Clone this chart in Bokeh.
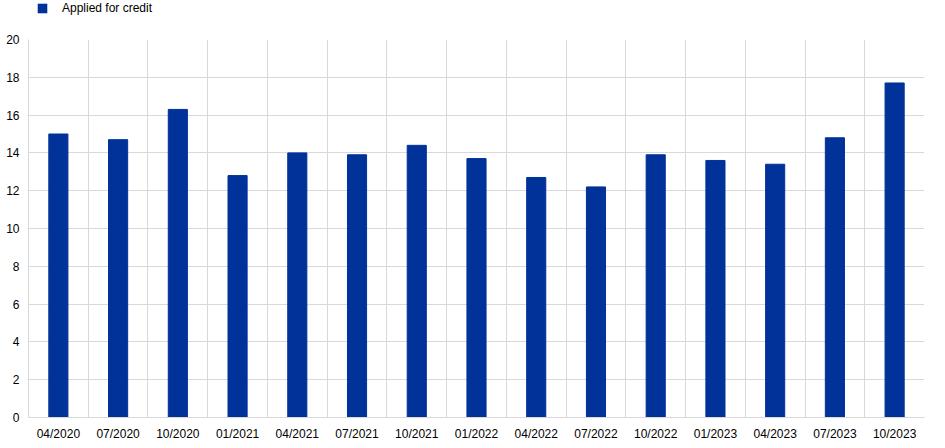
from bokeh.plotting import figure
from bokeh.layouts import column
from bokeh.models import ColumnDataSource, Range1d, FixedTicker, Legend, LegendItem
from bokeh.embed import file_html
from bokeh.resources import INLINE

categories = ["04/2020", "07/2020", "10/2020", "01/2021", "04/2021", "07/2021", "10/2021",
              "01/2022", "04/2022", "07/2022", "10/2022", "01/2023", "04/2023", "07/2023", "10/2023"]
applied_for_credit = [15.0, 14.7, 16.3, 12.8, 14.0, 13.9, 14.4, 13.7, 12.7, 12.2, 13.9, 13.6, 13.4, 14.8, 17.7]
y_ticks = [0, 2, 4, 6, 8, 10, 12, 14, 16, 18, 20]
series_name = "Applied for credit"

idx = list(range(len(categories)))
src = ColumnDataSource(data=dict(x=idx, top=applied_for_credit, cat=categories))

FONT = "Liberation Sans"
GRID = "#d9d9d9"
BLUE = "#003299"

# legend strip (its frame is aligned with the main frame by the column layout)
lg = figure(width=929, height=20, output_backend="svg", toolbar_location=None,
            x_axis_type=None, y_axis_type=None, x_range=Range1d(0, 1), y_range=Range1d(0, 1),
            min_border_left=0, min_border_right=0, min_border_top=0, min_border_bottom=0,
            outline_line_color=None)
lg.xgrid.visible = False
lg.ygrid.visible = False
# zero-height swatch source: gives the legend its glyph while drawing nothing in the strip
swatch = lg.vbar(x=[0.5], top=[0], bottom=[0], width=0.1, fill_color=BLUE, line_color=None)
legend = Legend(items=[LegendItem(label=series_name, renderers=[swatch])],
                location=(8, 5), orientation="horizontal",
                border_line_alpha=0, background_fill_alpha=0,
                padding=0, margin=0, glyph_width=12, glyph_height=12,
                label_text_font=FONT, label_text_font_size="12px", label_text_color="#000000",
                label_standoff=14, label_height=12)
lg.add_layout(legend)

p = figure(frame_width=896, frame_height=378, output_backend="svg", toolbar_location=None,
           x_range=Range1d(-0.5, len(categories) - 0.5), y_range=Range1d(0, 20),
           min_border_left=28, min_border_right=13, min_border_top=19, min_border_bottom=20,
           outline_line_color=None)

r = p.vbar(x="x", top="top", width=0.32, source=src, fill_color=BLUE, line_color=BLUE)

p.xaxis.ticker = FixedTicker(ticks=idx)
p.xaxis.major_label_overrides = {i: c for i, c in zip(idx, categories)}
p.yaxis.ticker = FixedTicker(ticks=y_ticks)

for ax in (p.xaxis[0], p.yaxis[0]):
    ax.major_tick_line_color = None
    ax.minor_tick_line_color = None
    ax.major_tick_out = 0
    ax.major_tick_in = 0
    ax.axis_line_color = GRID
    ax.major_label_text_font = FONT
    ax.major_label_text_font_size = "12px"
    ax.major_label_text_color = "#000000"
p.xaxis.major_label_standoff = 9
p.yaxis.major_label_standoff = 9

p.xgrid.ticker = FixedTicker(ticks=[i + 0.5 for i in idx])
p.xgrid.grid_line_color = GRID
p.ygrid.grid_line_color = GRID
p.ygrid.ticker = FixedTicker(ticks=y_ticks)

layout = column(lg, p, spacing=0)
open("out.html", "w").write(file_html(layout, INLINE))
